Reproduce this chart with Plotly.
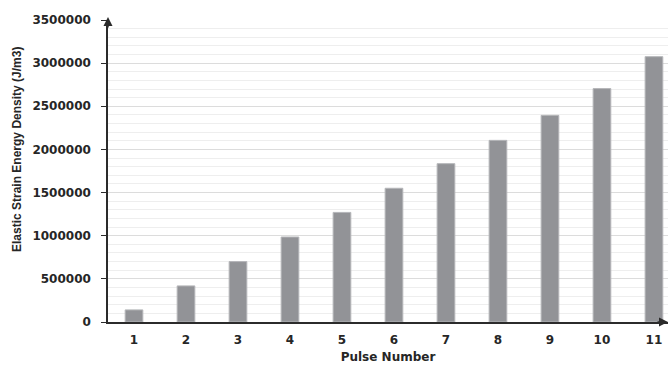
import plotly.graph_objects as go

pulse_numbers = [1, 2, 3, 4, 5, 6, 7, 8, 9, 10, 11]
strain_energy = [140000, 418000, 700000, 985000, 1270000, 1550000, 1835000, 2105000, 2395000, 2705000, 3075000]
y_ticks = [0, 500000, 1000000, 1500000, 2000000, 2500000, 3000000, 3500000]

fig = go.Figure()
fig.add_trace(go.Bar(
    x=pulse_numbers,
    y=strain_energy,
    width=0.34,
    marker=dict(color="#929397", line=dict(color="#b5b6b9", width=1)),
))

fig.update_layout(
    width=672, height=365,
    margin=dict(l=108, r=4, t=20, b=43),
    paper_bgcolor="white", plot_bgcolor="white",
    showlegend=False,
    font=dict(family="DejaVu Sans", color="#262626"),
    xaxis=dict(
        range=[0.5, 11.27], automargin=False,
        tickmode="array", tickvals=pulse_numbers,
        ticktext=[str(p) for p in pulse_numbers],
        tickfont=dict(size=12, weight="bold"),
        showgrid=False, zeroline=False,
        showline=True, linecolor="#2b2b2b", linewidth=1.5,
        ticks="", ticklabelstandoff=6,
        title=dict(text="Pulse Number", font=dict(size=12, weight="bold"), standoff=6),
    ),
    yaxis=dict(
        range=[0, 3500000], automargin=False,
        tickmode="array", tickvals=y_ticks,
        ticktext=[str(v) for v in y_ticks],
        tickfont=dict(size=12, weight="bold"),
        showgrid=True, gridcolor="#dcdcdc", gridwidth=1,
        minor=dict(dtick=100000, showgrid=True, gridcolor="#eeeeee", gridwidth=1, ticks=""),
        zeroline=False,
        showline=True, linecolor="#2b2b2b", linewidth=1.5,
        ticks="outside", ticklen=5, tickcolor="#2b2b2b",
        ticklabelstandoff=8,
    ),
)

# Vertical axis title, set slightly above the plot's centre
fig.add_annotation(
    text="Elastic Strain Energy Density (J/m3)",
    textangle=-90, xref="paper", yref="paper",
    x=-(108 - 17) / 560, y=(322 - 150) / 302,
    xanchor="center", yanchor="middle", showarrow=False,
    font=dict(family="Liberation Sans Narrow, Liberation Sans", size=12, weight="bold", color="#262626"),
)

# Arrow heads on the axes
fig.add_annotation(x=0, y=1.01, xref="paper", yref="paper", ax=0, ay=12,
                   showarrow=True, arrowhead=2, arrowsize=1.2, arrowwidth=1.5,
                   arrowcolor="#2b2b2b", text="")
fig.add_annotation(x=1.0, y=0, xref="paper", yref="paper", ax=-12, ay=0,
                   showarrow=True, arrowhead=2, arrowsize=1.2, arrowwidth=1.5,
                   arrowcolor="#2b2b2b", text="")

fig.write_html("out.html")
